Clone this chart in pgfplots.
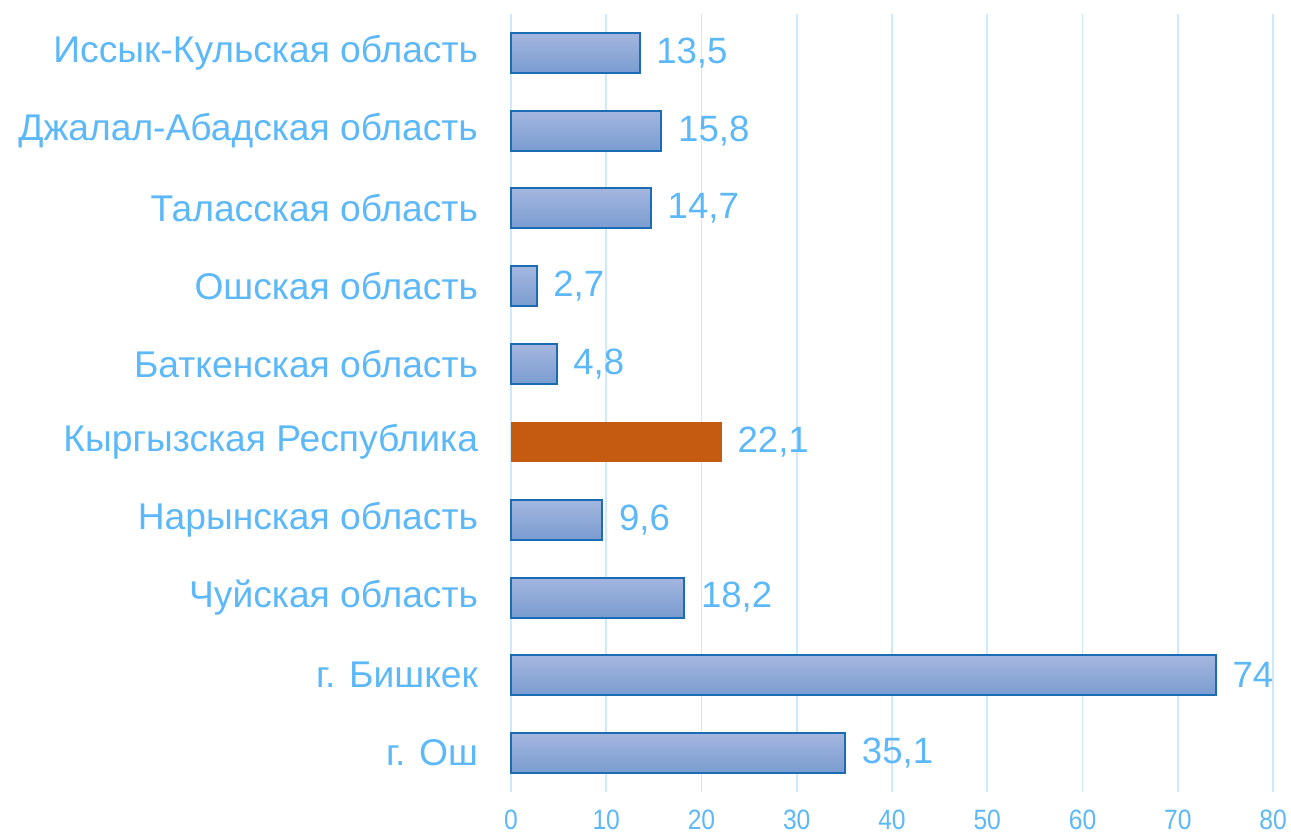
\documentclass[border=0pt]{standalone}
\usepackage{pgfplots}
\pgfplotsset{compat=1.18}
\usepackage{fontspec}
\setmainfont{Liberation Sans}
\newfontfamily\narrowfont{Liberation Sans}[FakeStretch=0.88]
\definecolor{txt}{RGB}{92,184,248}
\definecolor{gridc}{RGB}{206,232,252}
\definecolor{bartop}{RGB}{164,182,223}
\definecolor{barbot}{RGB}{122,156,208}
\definecolor{barline}{RGB}{28,108,180}
\definecolor{orangebar}{RGB}{197,90,17}
\begin{document}
\begin{tikzpicture}
\begin{axis}[
  scale only axis,
  width=381pt, height=389pt,
  xbar, bar width=20pt, bar shift=0pt,
  xmin=0, xmax=80, ymin=-0.5, ymax=9.5,
  xtick={0,10,...,80},
  ytick={0,...,9},
  yticklabels={г. Ош, г. Бишкек, Чуйская область, Нарынская область, Кыргызская Республика, Баткенская область, Ошская область, Таласская область, Джалал-Абадская область, Иссык-Кульская область},
  axis line style={draw=none},
  major tick length=0pt,
  xmajorgrids, grid style={gridc, line width=0.8pt},
  /pgf/number format/assume math mode=true,
  xticklabel style={font=\narrowfont\fontsize{14pt}{16pt}\selectfont, text=txt, inner sep=0pt, yshift=-9pt},
  yticklabel style={font=\fontsize{18.6pt}{21pt}\selectfont, text=txt, xshift=-13pt},
  nodes near coords,
  nodes near coords style={font=\fontsize{18.3pt}{21pt}\selectfont, text=txt, anchor=west, xshift=4.5pt,
    /pgf/number format/use comma, /pgf/number format/precision=1},
  bluebar/.style={draw=barline, line width=1pt, top color=bartop, bottom color=barbot},
  clip=false,
]
\addplot[bluebar] coordinates {(35.1,0)};
\addplot[bluebar] coordinates {(74,1)};
\addplot[bluebar] coordinates {(18.2,2)};
\addplot[bluebar] coordinates {(9.6,3)};
\addplot[draw=none, fill=orangebar] coordinates {(22.1,4)};
\addplot[bluebar] coordinates {(4.8,5)};
\addplot[bluebar] coordinates {(2.7,6)};
\addplot[bluebar] coordinates {(14.7,7)};
\addplot[bluebar] coordinates {(15.8,8)};
\addplot[bluebar] coordinates {(13.5,9)};
\coordinate (SW) at (rel axis cs:0,0);
\coordinate (NE) at (rel axis cs:1,1);
\end{axis}
\path (SW) ++(-255.5pt,-20.5pt);
\path (NE) ++(9pt,7pt);
\end{tikzpicture}
\end{document}
